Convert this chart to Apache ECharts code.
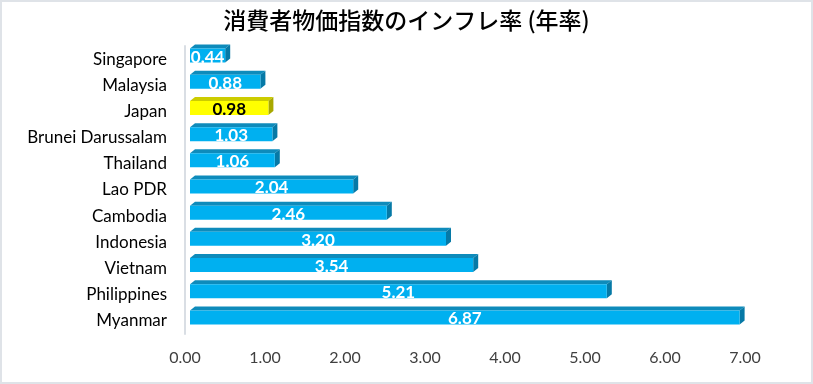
<!DOCTYPE html>
<html>
<head>
<meta charset="utf-8">
<script src="https://cdn.jsdelivr.net/npm/echarts@6/dist/echarts.min.js"></script>
<style>
html,body{margin:0;padding:0;background:#fff;}
#chart{width:813px;height:384px;}
</style>
</head>
<body>
<div id="chart"></div>
<script>
const titleText = '消費者物価指数のインフレ率 (年率)';
const categories = ['Singapore','Malaysia','Japan','Brunei Darussalam','Thailand','Lao PDR','Cambodia','Indonesia','Vietnam','Philippines','Myanmar'];
const values = [0.44,0.88,0.98,1.03,1.06,2.04,2.46,3.20,3.54,5.21,6.87];
const highlighted = ['Japan'];
const xMin = 0, xMax = 7, xStep = 1;

const blue = {front:'#00B0F0', top:'#0E8BBB', side:'#0679A6', text:'#FFFFFF'};
const yellow = {front:'#FFFF00', top:'#CCCC00', side:'#A8A800', text:'#000000'};

const chart = echarts.init(document.getElementById('chart'), null, {renderer:'canvas'});
const data = values.map((v,i)=>[i, v]);

chart.setOption({
  animation:false,
  backgroundColor:'#fff',
  title:{
    text:titleText, left:'center', top:4,
    textStyle:{fontFamily:"'Noto Sans CJK JP', serif", fontSize:23, fontWeight:500, color:'#000'}
  },
  graphic:[{type:'rect', shape:{x:1,y:1,width:811,height:382}, style:{fill:'none', stroke:'#DFE3E8', lineWidth:2}, silent:true}],
  grid:{left:185, right:68, top:46, bottom:50, containLabel:false},
  xAxis:{
    type:'value', min:xMin, max:xMax, interval:xStep,
    axisLine:{show:false}, axisTick:{show:false}, splitLine:{show:false},
    axisLabel:{formatter:v=>v.toFixed(2), fontFamily:'Lato', fontSize:16, color:'#404040', margin:16}
  },
  yAxis:{
    type:'category', inverse:true, data:categories,
    axisLine:{show:true, lineStyle:{color:'#D9DEE4', width:2}},
    axisTick:{show:false},
    axisLabel:{fontFamily:'Lato', fontSize:17, color:'#000', margin:18}
  },
  series:[{
    type:'custom',
    encode:{x:1, y:0},
    data:data,
    renderItem:function(params, api){
      const idx = api.value(0), v = api.value(1);
      const p0 = api.coord([0, idx]);
      const p1 = api.coord([v, idx]);
      const c = highlighted.indexOf(categories[idx]) >= 0 ? yellow : blue;
      const sx = 5, sy = -3.5, h = 14, ddx = 5, ddy = -4;
      const x0 = p0[0] + sx, x1 = p1[0] + sx;
      const yc = p0[1] + sy, yT = yc - h/2, yB = yc + h/2;
      return {type:'group', children:[
        {type:'polygon', shape:{points:[[x0,yT],[x1,yT],[x1+ddx,yT+ddy],[x0+ddx,yT+ddy]]}, style:{fill:c.top}},
        {type:'polygon', shape:{points:[[x1,yT],[x1+ddx,yT+ddy],[x1+ddx,yB+ddy],[x1,yB]]}, style:{fill:c.side}},
        {type:'rect', shape:{x:x0, y:yT, width:x1-x0, height:h}, style:{fill:c.front}},
        {type:'text', style:{text:v.toFixed(2), x:(x0+x1)/2, y:yc+1.5, align:'center', verticalAlign:'middle',
          fontFamily:'Lato', fontWeight:'bold', fontSize:17, fill:c.text}}
      ]};
    }
  }]
});
</script>
</body>
</html>
